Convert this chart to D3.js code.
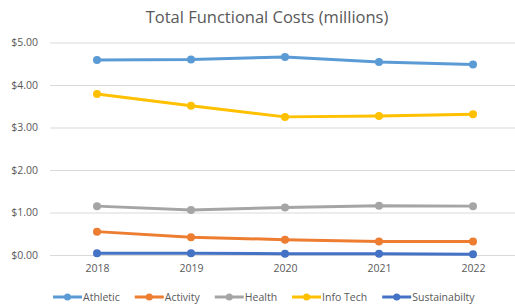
<!DOCTYPE html>
<html lang="en">
<head>
    <meta charset="UTF-8">
    <title>line chart</title>
    <script src="https://cdnjs.cloudflare.com/ajax/libs/d3/7.8.5/d3.min.js"></script>
    <style>
        body { margin: 0; background: #fff; }
        .chart text { font-family: "Open Sans", "Noto Sans", sans-serif; fill: #595959; }
        .title { font-size: 16.5px; }
        .axis text { font-size: 10.5px; }
        .axis path { display: none; }
        .y.axis line { stroke: #d9d9d9; }
        .x.axis line { display: none; }
        .legend text { font-size: 10.5px; }
    </style>
</head>
<body>
    <svg class="chart"></svg>
    <script>
        const years = ['2018', '2019', '2020', '2021', '2022'];
        const seriesNames = ['Athletic', 'Activity', 'Health', 'Info Tech', 'Sustainabilty'];
        const athletic = [4.59, 4.60, 4.66, 4.54, 4.48];
        const activity = [0.55, 0.42, 0.36, 0.32, 0.32];
        const health = [1.15, 1.06, 1.12, 1.16, 1.15];
        const infoTech = [3.79, 3.51, 3.25, 3.27, 3.31];
        const sustainability = [0.04, 0.04, 0.03, 0.03, 0.02];
        const yTicks = [0, 1, 2, 3, 4, 5];
        const colors = ['#5b9bd5', '#ed7d31', '#a5a5a5', '#ffc000', '#4472c4'];

        const series = [athletic, activity, health, infoTech, sustainability];

        const width = 515, height = 308;
        const margin = {top: 42.5, right: 0, bottom: 53, left: 50};

        const svg = d3.select('.chart')
            .attr('width', width)
            .attr('height', height);

        const x = d3.scalePoint()
            .domain(years)
            .range([margin.left, 520])
            .padding(0.5);

        const y = d3.scaleLinear()
            .domain([0, 5])
            .range([height - margin.bottom, margin.top]);

        svg.append('text')
            .attr('class', 'title')
            .attr('x', 267)
            .attr('y', 23)
            .attr('text-anchor', 'middle')
            .text('Total Functional Costs (millions)');

        // gridlines + y labels
        const yAxis = d3.axisLeft(y)
            .tickValues(yTicks)
            .tickSize(-(width - margin.left))
            .tickPadding(12)
            .tickFormat(d => '$' + d3.format('.2f')(d));

        svg.append('g')
            .attr('class', 'y axis')
            .attr('transform', `translate(${margin.left}, 0)`)
            .call(yAxis);

        svg.append('g')
            .attr('class', 'x axis')
            .attr('transform', `translate(0, ${height - margin.bottom})`)
            .call(d3.axisBottom(x).tickSize(0).tickPadding(10));

        const line = d3.line()
            .x((d, i) => x(years[i]))
            .y(d => y(d));

        const g = svg.selectAll('.series')
            .data(series)
            .enter().append('g')
            .attr('class', 'series');

        g.append('path')
            .attr('fill', 'none')
            .attr('stroke', (d, i) => colors[i])
            .attr('stroke-width', 3)
            .attr('stroke-linejoin', 'round')
            .attr('d', d => line(d));

        g.each(function(d, i) {
            d3.select(this).selectAll('circle')
                .data(d)
                .enter().append('circle')
                .attr('cx', (v, j) => x(years[j]))
                .attr('cy', v => y(v))
                .attr('r', 4)
                .attr('fill', colors[i]);
        });

        // legend
        const legend = svg.append('g')
            .attr('class', 'legend')
            .attr('transform', 'translate(53, 297)');

        let lx = 0;
        seriesNames.forEach((name, i) => {
            const item = legend.append('g').attr('transform', `translate(${lx}, 0)`);
            item.append('line')
                .attr('x1', 0).attr('x2', 29)
                .attr('stroke', colors[i])
                .attr('stroke-width', 3);
            item.append('circle')
                .attr('cx', 14.5).attr('r', 3.5)
                .attr('fill', colors[i]);
            const t = item.append('text')
                .attr('x', 30)
                .attr('dy', '0.35em')
                .text(name);
            lx += 30 + t.node().getComputedTextLength() + 15;
        });
    </script>
</body>
</html>
